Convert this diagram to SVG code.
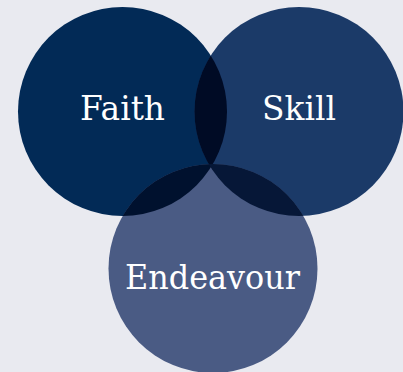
<svg xmlns="http://www.w3.org/2000/svg" width="403" height="372" viewBox="0 0 403 372">
<style>
.lbl{font-family:"DejaVu Serif","Liberation Serif",serif;font-size:33px;fill:#ffffff;text-anchor:middle}
</style>
<defs>
<clipPath id="cF"><circle cx="122.5" cy="111.5" r="104.5"/></clipPath>
<clipPath id="cS"><circle cx="299" cy="111.5" r="104.5"/></clipPath>
</defs>
<rect width="403" height="372" fill="#e9eaf0"/>
<g id="faith"><circle cx="122.5" cy="111.5" r="104.5" fill="#022a56"/></g>
<g id="skill"><circle cx="299" cy="111.5" r="104.5" fill="#1b3a68"/></g>
<g id="endeavour"><circle cx="213" cy="268.5" r="104.5" fill="#4a5b84"/></g>
<g id="overlaps">
<circle cx="299" cy="111.5" r="104.5" fill="#000b25" clip-path="url(#cF)"/>
<circle cx="213" cy="268.5" r="104.5" fill="#00112e" clip-path="url(#cF)"/>
<circle cx="213" cy="268.5" r="104.5" fill="#061737" clip-path="url(#cS)"/>
</g>
<g id="labels">
<text class="lbl" x="122.5" y="119.5" textLength="85" lengthAdjust="spacingAndGlyphs">Faith</text>
<text class="lbl" x="299" y="119.5" textLength="74" lengthAdjust="spacingAndGlyphs">Skill</text>
<text class="lbl" x="212.5" y="288.5" textLength="175" lengthAdjust="spacingAndGlyphs">Endeavour</text>
</g>
</svg>
